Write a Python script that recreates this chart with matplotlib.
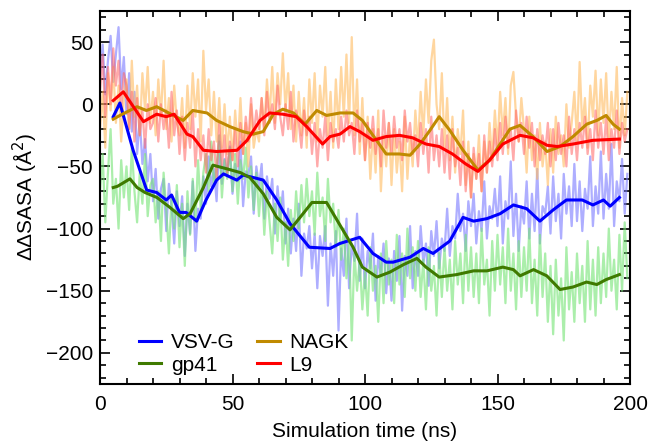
import numpy as np
import matplotlib
matplotlib.use('Agg')
import matplotlib.pyplot as plt
from matplotlib.ticker import MultipleLocator

# raw traces, one value per ns (0..199)
vsvg_raw = [22, 48, 8, 35, 55, 18, 40, 62, 12, 38,
            -8, 25, -22, 10, -40, -12, -48, -28, -62, -40,
            -78, -52, -92, -68, -60, -102, -64, -82, -112, -70,
            -98, -74, -122, -80, -104, -62, -118, -84, -92, -58,
            -80, -42, -66, -52, -78, -30, -64, -44, -58, -34,
            -72, -48, -62, -30, -82, -54, -56, -42, -88, -50,
            -66, -48, -92, -58, -76, -60, -104, -66, -92, -70,
            -112, -84, -120, -92, -118, -80, -138, -104, -116, -98,
            -132, -104, -148, -106, -122, -98, -162, -112, -138, -102,
            -182, -116, -138, -92, -148, -112, -126, -88, -142, -108,
            -148, -118, -132, -104, -158, -122, -138, -112, -152, -124,
            -158, -118, -142, -106, -166, -122, -138, -98, -148, -118,
            -138, -98, -128, -112, -146, -102, -122, -94, -132, -108,
            -118, -84, -122, -98, -108, -72, -102, -88, -118, -78,
            -98, -72, -112, -86, -102, -62, -108, -82, -92, -68,
            -98, -58, -112, -78, -92, -46, -106, -72, -118, -82,
            -96, -62, -108, -72, -102, -52, -112, -82, -88, -66,
            -104, -58, -94, -72, -108, -56, -88, -66, -98, -48,
            -94, -62, -102, -68, -84, -42, -98, -66, -88, -38,
            -92, -56, -84, -32, -98, -62, -78, -44, -88, -56]

gp41_raw = [-70, -40, -95, -55, -20, -80, -60, -100, -45, -75,
            -50, -85, -35, -70, -95, -55, -80, -40, -90, -65,
            -60, -95, -70, -110, -55, -85, -120, -75, -100, -65,
            -115, -80, -130, -70, -105, -60, -95, -45, -85, -55,
            -40, -70, -30, -65, -50, -25, -75, -45, -60, -35,
            -70, -40, -80, -45, -60, -35, -75, -50, -85, -55,
            -90, -60, -105, -70, -95, -120, -80, -110, -75, -125,
            -95, -130, -85, -110, -70, -100, -65, -95, -60, -90,
            -70, -105, -55, -90, -75, -110, -60, -95, -80, -115,
            -85, -125, -100, -140, -110, -190, -120, -150, -125, -165,
            -135, -170, -115, -150, -130, -175, -120, -160, -110, -145,
            -125, -160, -105, -145, -120, -155, -100, -140, -115, -150,
            -110, -155, -125, -165, -115, -150, -130, -170, -120, -155,
            -115, -150, -125, -165, -110, -145, -120, -160, -105, -150,
            -115, -155, -120, -160, -100, -145, -125, -170, -110, -150,
            -105, -145, -115, -160, -100, -150, -120, -165, -110, -155,
            -115, -150, -100, -160, -125, -170, -105, -155, -120, -175,
            -130, -185, -125, -170, -140, -190, -115, -165, -135, -175,
            -120, -160, -130, -175, -110, -165, -125, -170, -115, -160,
            -120, -155, -100, -150, -125, -165, -105, -150, -95, -140]

nagk_raw = [-20, 10, -35, 25, -5, 30, -15, 15, -30, 5,
            20, -20, 35, -10, 15, -25, 25, -5, 30, -15,
            10, -25, 20, -10, 35, -20, 5, -30, 15, -15,
            -25, 5, -35, 15, -20, 25, -10, 20, -30, 43,
            -5, 20, -25, 10, -30, 5, -35, 0, -40, -10,
            -45, -5, -35, 5, -40, -15, -50, 0, -35, -20,
            -30, 5, -20, 20, -10, 30, -15, 25, 0, 41,
            -5, 25, -20, 15, -30, 10, -25, 5, -35, 20,
            -15, 25, -30, 15, -10, 30, -25, 10, -35, 20,
            -20, 30, -10, 40, -15, 54, -25, 20, -40, 5,
            -45, -10, -60, -20, -55, -5, -70, -25, -50, -15,
            -65, -20, -55, -30, -70, -10, -60, -25, -50, -5,
            -35, 10, -25, 20, -15, 35, 52, 0, -20, 25,
            -35, 5, -45, -10, -55, -20, -40, -5, -65, -30,
            -75, -40, -60, -25, -70, -30, -55, -15, -45, -5,
            -35, 10, -25, 5, -40, 15, 26, -10, -30, 5,
            -20, -55, -10, -45, -25, -60, -15, -50, -30, -65,
            -20, -55, -10, -40, -25, -50, 0, -35, -15, 10,
            -30, 34, -20, 5, -35, 15, -10, 27, -25, 20,
            -15, 25, -30, 10, -20, 30, -35, 5, -25, 10]

l9_raw = [10, 40, -10, 30, 0, 45, 15, 35, -5, 25,
          15, -20, 10, -30, 5, -25, -5, -35, 0, -20,
          -15, 5, -30, 0, -20, -5, -35, 10, -25, -5,
          -40, -10, -45, -15, -35, -5, -50, -20, -45, -25,
          -55, -20, -45, -30, -60, -15, -50, -25, -55, -30,
          -45, -20, -50, -15, -40, -10, -30, 5, -25, -5,
          -20, 5, -25, 10, -15, 0, -20, 15, -10, -25,
          0, -20, 10, -30, -5, -15, -35, -5, -25, -10,
          -40, -15, -50, -20, -35, -10, -45, -15, -30, -20,
          -35, -10, -30, -5, -25, -15, -40, -5, -30, -15,
          -45, -15, -35, -10, -40, -20, -50, -5, -35, -15,
          -40, -10, -35, -20, -45, -5, -30, -15, -40, -25,
          -50, -15, -40, -20, -55, -10, -45, -25, -50, -20,
          -55, -25, -60, -20, -50, -35, -65, -30, -70, -40,
          -75, -35, -60, -40, -70, -25, -55, -30, -50, -20,
          -45, -15, -40, -10, -35, -20, -45, -5, -30, -15,
          -40, -10, -35, -15, -50, -20, -45, -25, -40, -15,
          -50, -20, -45, -15, -40, -25, -50, -10, -40, -20,
          -45, -15, -35, -10, -40, -20, -45, -5, -35, -15,
          -40, -10, -45, -20, -35, -5, -40, -15, -30, -20]

# running averages
vsvg_t = [5, 7.5, 12.5, 17.6, 21.4, 25, 27, 30, 32.5, 36.5, 40, 44, 46.6, 51.6, 54, 58, 61.6,
          66.7, 71.7, 79, 86.8, 90.5, 98, 103, 108, 110.6, 117, 122, 125.7, 132, 137, 141,
          146, 151, 156, 161, 166, 171, 176, 182, 186, 190, 192.5, 196]
vsvg_avg = [-10, 1, -37, -69, -71, -77, -73, -87, -87, -94, -77, -61, -56, -61, -57, -59, -61,
            -77, -96, -115, -116, -112, -107, -120, -127, -127, -123, -116, -120, -110, -91, -94,
            -92, -88, -81, -84, -94, -85, -77, -77, -81, -77, -82, -75]

gp41_t = [5, 6.6, 11.3, 14, 17, 21.5, 26.4, 31.4, 34, 39, 42.6, 48, 53, 56.6, 61.6, 66.7, 71.7,
          75.5, 80, 85.5, 90.5, 95.5, 99, 104.5, 109.4, 114.5, 119.6, 123, 128, 134.6, 141, 146,
          152, 156, 158.5, 163.6, 168.6, 173.6, 178.5, 183.6, 187.5, 191, 196]
gp41_avg = [-67, -66, -60, -67, -71, -75, -83, -92, -88, -67, -49, -52, -55, -59, -72, -91, -101,
            -91, -79, -79, -97, -115, -131, -139, -135, -129, -124, -131, -139, -137, -134, -134,
            -131, -133, -138, -133, -138, -149, -147, -143, -145, -141, -137]

nagk_t = [5, 7.5, 14, 17.5, 21.4, 25, 31.4, 35, 40.4, 44, 49, 54, 57.8, 61.6, 65.4, 69, 73, 77.4,
          81.8, 85.5, 90.6, 95.5, 99, 103, 108, 113, 117, 120.8, 124.5, 128, 132, 137, 142.6, 147,
          151, 154.7, 158.5, 163.4, 168.7, 173.6, 178.5, 183.7, 187.5, 191, 193.6, 196]
nagk_avg = [-12, -9, -2, -5, -2, -6, -13, -5, -7, -13, -18, -22, -24, -22, -8, -4, -7, -16,
            -5, -9, -7, -7, -13, -25, -40, -40, -41, -32, -21, -10, -21, -37, -53, -45,
            -32, -20, -17, -26, -38, -34, -26, -16, -13, -9, -16, -20]

l9_t = [5, 8.8, 12.6, 16.4, 21.4, 25, 28, 32.8, 35, 39, 44, 51.7, 55.5, 60.4, 64, 69, 74, 78,
        84, 86.8, 90.6, 94.3, 98, 103, 108, 113, 118, 123, 128, 133, 138, 142.6, 147, 152,
        158.5, 163.4, 168.7, 172.5, 178.5, 186, 196]
l9_avg = [3, 10, -2, -14, -8, -10, -8, -24, -26, -37, -38, -37, -29, -13, -7, -8, -10, -18,
          -32, -26, -24, -18, -22, -29, -26, -25, -27, -32, -34, -40, -48, -54, -45, -32,
          -25, -27, -33, -34, -32, -29, -28]

names = ['VSV-G', 'gp41', 'NAGK', 'L9']
raw = [vsvg_raw, gp41_raw, nagk_raw, l9_raw]
avg_t = [vsvg_t, gp41_t, nagk_t, l9_t]
avg = [vsvg_avg, gp41_avg, nagk_avg, l9_avg]
raw_colors = ['#7878ff', '#74e474', '#ffbb60', '#ff6464']
raw_alpha = [0.6, 0.6, 0.6, 0.55]
avg_colors = ['#0000ff', '#3f7a00', '#c08a00', '#ff0000']

plt.rcParams['font.family'] = ['Liberation Sans', 'DejaVu Sans']
plt.rcParams['font.size'] = 15

fig = plt.figure(figsize=(6.54, 4.41), dpi=100)
ax = fig.add_axes([100/654, 57/441, 530/654, 373/441])

t_raw = np.arange(len(vsvg_raw))
for r, c, a in zip(raw, raw_colors, raw_alpha):
    ax.plot(t_raw, r, color=c, alpha=a, lw=1.6)

handles = {}
for n, t, v, c in zip(names, avg_t, avg, avg_colors):
    handles[n], = ax.plot(t, v, color=c, lw=2.2, label=n)

ax.set_xlim(0, 200)
ax.set_ylim(-225, 75)
ax.xaxis.set_major_locator(MultipleLocator(50))
ax.xaxis.set_minor_locator(MultipleLocator(10))
ax.yaxis.set_major_locator(MultipleLocator(50))
ax.yaxis.set_minor_locator(MultipleLocator(10))
ax.tick_params(which='both', direction='in', top=True, right=True, width=1.2)
ax.tick_params(which='major', length=7, labelsize=15)
ax.tick_params(axis='x', which='major', pad=8)
ax.tick_params(axis='y', which='major', pad=5)
ax.tick_params(which='minor', length=4)
for s in ax.spines.values():
    s.set_linewidth(1.5)

ax.set_xlabel('Simulation time (ns)', fontsize=15, labelpad=6)
ax.set_ylabel('ΔΔSASA (Å$^2$)', fontsize=15, labelpad=4)

order = ['VSV-G', 'gp41', 'NAGK', 'L9']
ax.legend([handles[n] for n in order], order, ncol=2, loc='lower left',
          bbox_to_anchor=(0.055, 0.0), frameon=False, handlelength=1.1,
          columnspacing=1.1, labelspacing=0.15, handletextpad=0.45,
          borderaxespad=0.05, fontsize=15)

fig.savefig('out.png', dpi=100)
